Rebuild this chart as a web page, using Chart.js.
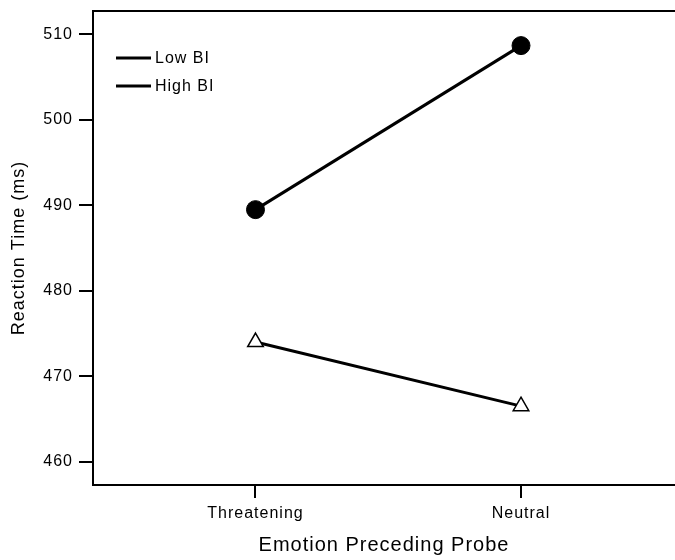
<!DOCTYPE html>
<html lang="en">
<head>
<meta charset="UTF-8">
<title>Reaction Time by Emotion</title>
<script src="https://cdn.jsdelivr.net/npm/chart.js@4"></script>
<style>
  body { margin: 0; background: #fff; }
</style>
</head>
<body>
<canvas id="rtChart" width="675" height="560"></canvas>
<script>
// values
const categories = ['Threatening', 'Neutral'];
const lowBI = [489.5, 508.7];
const highBI = [474.0, 466.5];
const yTicks = [460, 470, 480, 490, 500, 510];

const fontFamily = '"Liberation Sans", Arial, sans-serif';

// the source uses a wide bitmap font, so spread the letters a little
const spacing = {
  id: 'spacing',
  beforeDraw(chart) { chart.ctx.letterSpacing = '1px'; }
};

// top frame line and the legend drawn inside the plot
const frame = {
  id: 'frame',
  afterDraw(chart) {
    const { ctx, chartArea: a } = chart;
    ctx.save();
    ctx.strokeStyle = '#000';
    ctx.lineWidth = 2;
    ctx.beginPath();
    ctx.moveTo(a.left, a.top);
    ctx.lineTo(a.right, a.top);
    ctx.stroke();

    ctx.font = '16px ' + fontFamily;
    ctx.textBaseline = 'middle';
    ctx.fillStyle = '#000';
    ctx.lineWidth = 3;
    chart.data.datasets.forEach((ds, i) => {
      const y = a.top + 47 + i * 28;
      ctx.beginPath();
      ctx.moveTo(a.left + 23, y);
      ctx.lineTo(a.left + 58, y);
      ctx.stroke();
      ctx.fillText(ds.label, a.left + 62, y + 1);
    });
    ctx.restore();
  }
};

const toPoints = vals => vals.map((v, i) => ({ x: i, y: v }));

new Chart(document.getElementById('rtChart'), {
  type: 'line',
  data: {
    datasets: [{
      label: 'Low BI',
      data: toPoints(lowBI),
      borderColor: '#000',
      borderWidth: 3,
      pointStyle: 'circle',
      pointRadius: 9,
      pointBackgroundColor: '#000',
      pointBorderColor: '#000',
      pointBorderWidth: 1
    }, {
      label: 'High BI',
      data: toPoints(highBI),
      borderColor: '#000',
      borderWidth: 3,
      pointStyle: 'triangle',
      pointRadius: 9,
      pointBackgroundColor: '#fff',
      pointBorderColor: '#000',
      pointBorderWidth: 1.5
    }]
  },
  options: {
    responsive: false,
    animation: false,
    layout: { autoPadding: false, padding: { top: 11, right: 0, left: 0, bottom: 0 } },
    plugins: {
      legend: { display: false },
      tooltip: { enabled: false }
    },
    scales: {
      x: {
        type: 'linear',
        min: -0.612,
        max: 1.58,
        afterBuildTicks: s => { s.ticks = categories.map((c, i) => ({ value: i })); },
        afterFit: s => { s.height = 75; s.paddingLeft = 0; s.paddingRight = 0; },
        ticks: {
          autoSkip: false,
          maxRotation: 0,
          callback: v => categories[v],
          color: '#000',
          padding: 6,
          font: { family: fontFamily, size: 16 }
        },
        grid: { drawOnChartArea: false, tickLength: 13, color: '#000', lineWidth: 2 },
        border: { color: '#000', width: 2 },
        title: {
          display: true,
          text: 'Emotion Preceding Probe',
          color: '#000',
          font: { family: fontFamily, size: 20 },
          padding: { top: 0, bottom: 3 }
        }
      },
      y: {
        min: 457.27,
        max: 512.75,
        afterBuildTicks: s => { s.ticks = yTicks.map(v => ({ value: v })); },
        afterFit: s => { s.width = 93; s.paddingTop = 0; s.paddingBottom = 0; },
        ticks: {
          color: '#000',
          padding: 6,
          font: { family: fontFamily, size: 16 }
        },
        grid: { drawOnChartArea: false, tickLength: 14, color: '#000', lineWidth: 2 },
        border: { color: '#000', width: 2 },
        title: {
          display: true,
          text: 'Reaction Time (ms)',
          color: '#000',
          font: { family: fontFamily, size: 18 },
          padding: { top: 8, bottom: 0 }
        }
      }
    }
  },
  plugins: [spacing, frame]
});
</script>
</body>
</html>
